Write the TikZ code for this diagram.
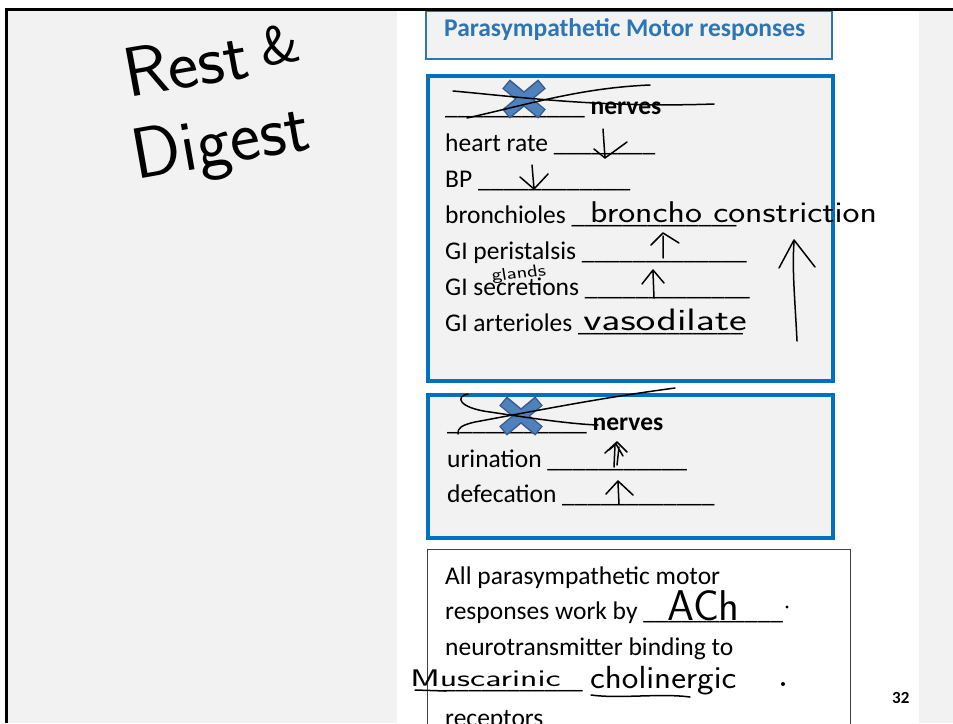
\documentclass[tikz,border=0pt]{standalone}
\usepackage{fontspec}
\setmainfont{Carlito}
\definecolor{slidegray}{HTML}{F2F2F2}
\definecolor{boxblue}{HTML}{0070C0}
\definecolor{titleblue}{HTML}{2E75B6}
\definecolor{xfill}{HTML}{4F81BD}
\definecolor{xline}{HTML}{385D8A}
\newcommand{\blanks}[1]{\foreach \k in {1,...,#1}{\_}}
\tikzset{
  txt/.style={anchor=base west, inner sep=0pt, font=\fontsize{25.5}{30}\selectfont},
  bold/.style={anchor=base west, inner sep=0pt, font=\fontsize{25.5}{30}\selectfont\bfseries},
  hand/.style={anchor=base west, inner sep=0pt},
  ink/.style={line width=1.5pt, line cap=round, line join=round},
}
\begin{document}
\begin{tikzpicture}[x=1pt,y=-1pt]
\useasboundingbox (0,0) rectangle (953,723);
\clip (0,0) rectangle (953,723);
% page background
\fill[slidegray] (7,10) rectangle (397,723);
\fill[slidegray] (919,10) rectangle (953,723);
% boxes
\draw[titleblue, line width=1.3pt, fill=slidegray] (426,11) rectangle (832,59);
\draw[boxblue, line width=4pt, fill=slidegray] (428,76) rectangle (833,381);
\draw[boxblue, line width=4pt, fill=slidegray] (428,395) rectangle (833,538);
\draw[black!75, line width=1pt, fill=white] (427,549) rectangle (850,740);
% printed text
\node[bold, text=titleblue] (title) at (444,36) {Parasympathetic Motor responses};
\node[txt] (nerveA) at (445,114) {\blanks{11} \textbf{nerves}};
\node[txt] (heart) at (445,151) {heart rate \blanks{8}};
\node[txt] (bp) at (445,187) {BP \blanks{12}};
\node[txt] (bronch) at (445,223) {bronchioles \blanks{13}};
\node[txt] (peri) at (445,259) {GI peristalsis \blanks{13}};
\node[txt] (secr) at (445,295) {GI secretions \blanks{13}};
\node[txt] (arter) at (445,331) {GI arterioles \blanks{13}};
\node[txt] (nerveB) at (447,430) {\blanks{11} \textbf{nerves}};
\node[txt] (urin) at (447,467) {urination \blanks{11}};
\node[txt] (defec) at (447,502) {defecation \blanks{12}};
\node[txt] (all) at (445,584) {All parasympathetic motor};
\node[txt] (work) at (445,619) {responses work by \blanks{11}};
\node[txt] (bind) at (445,655) {neurotransmitter binding to};
\node[txt] (recblank) at (443,688) {\blanks{11}};
\node[txt] (recep) at (445,726) {receptors};
\node[anchor=base west, inner sep=0pt, font=\fontsize{17}{20}\selectfont\bfseries] (pagenum) at (892,703) {32};
% crossed out blanks
\foreach \cx/\cy in {524/99, 521/416} {
  \draw[xline, line width=12pt] (\cx-18,\cy-15) -- (\cx+18,\cy+15) (\cx+18,\cy-15) -- (\cx-18,\cy+15);
  \draw[xfill, line width=9pt] (\cx-17,\cy-14) -- (\cx+17,\cy+14) (\cx+17,\cy-14) -- (\cx-17,\cy+14);
}
\draw[ink] (453,91) .. controls (520,97) and (600,108) .. (714,104);
\draw[ink] (467,118) .. controls (530,104) and (580,88) .. (650,85);
\draw[ink] (468,394) .. controls (455,396) and (458,408) .. (490,412) .. controls (530,418) and (570,424) .. (598,425);
\draw[ink] (458,434) .. controls (457,428) and (462,425) .. (475,422) .. controls (540,410) and (600,398) .. (675,388);
% handwriting
\node[hand, font=\sffamily\fontsize{70}{70}\selectfont, xscale=1.04, rotate=10] (rest) at (128,98) {Rest{\fontsize{40}{40}\selectfont\ }{\fontsize{54}{54}\selectfont\raisebox{8pt}{\&}}};
\node[hand, font=\sffamily\fontsize{72}{72}\selectfont, rotate=10] (digest) at (136,180) {Digest};
\node[hand, font=\sffamily\fontsize{30}{30}\selectfont, xscale=1.2] (broncho) at (590,222) {broncho constriction};
\node[hand, font=\sffamily\fontsize{17}{17}\selectfont, xscale=1.3, rotate=7] (glands) at (492,281) {glands};
\node[hand, font=\sffamily\fontsize{31}{31}\selectfont, xscale=1.36] (vaso) at (583,330) {vasodilate};
\node[hand, font=\sffamily\fontsize{43}{43}\selectfont] (ach) at (667,620) {ACh};
\node[hand, font=\sffamily\fontsize{24}{24}\selectfont, xscale=1.5] (musc) at (410,686) {Muscarinic};
\node[hand, font=\sffamily\fontsize{32}{32}\selectfont, xscale=1.1] (chol) at (590,688) {cholinergic};
% arrows
\draw[ink] (603,129) -- (605,158) (594,149) -- (605,158) -- (627,142);
\draw[ink] (532,165) -- (534,189) (520,177) -- (534,189) -- (548,174);
\draw[ink] (663,236) -- (663,258) (651,245) -- (663,233) -- (679,243);
\draw[ink] (653,272) -- (654,298) (642,284) -- (653,270) -- (664,283);
\draw[ink] (797,341) .. controls (795,300) and (792,270) .. (794,242) (779,268) -- (794,240) -- (815,267);
\draw[ink] (615,445) -- (614,467) (619,447) -- (617,465) (605,453) -- (617,442) -- (627,452) (609,450) -- (616,444) -- (623,456);
\draw[ink] (618,483) -- (619,504) (606,494) -- (618,481) -- (633,495);
\draw[ink] (415,690) -- (446,691);
\draw[ink] (591,695) .. controls (620,699) and (660,693) .. (690,697);
\fill (787,607) circle (1.7);
\fill (783,684) circle (2);
% frame
\draw[line width=3pt] (5,9.5) -- (953,9.5);
\draw[line width=3pt] (6.5,8) -- (6.5,723);
\end{tikzpicture}
\end{document}
